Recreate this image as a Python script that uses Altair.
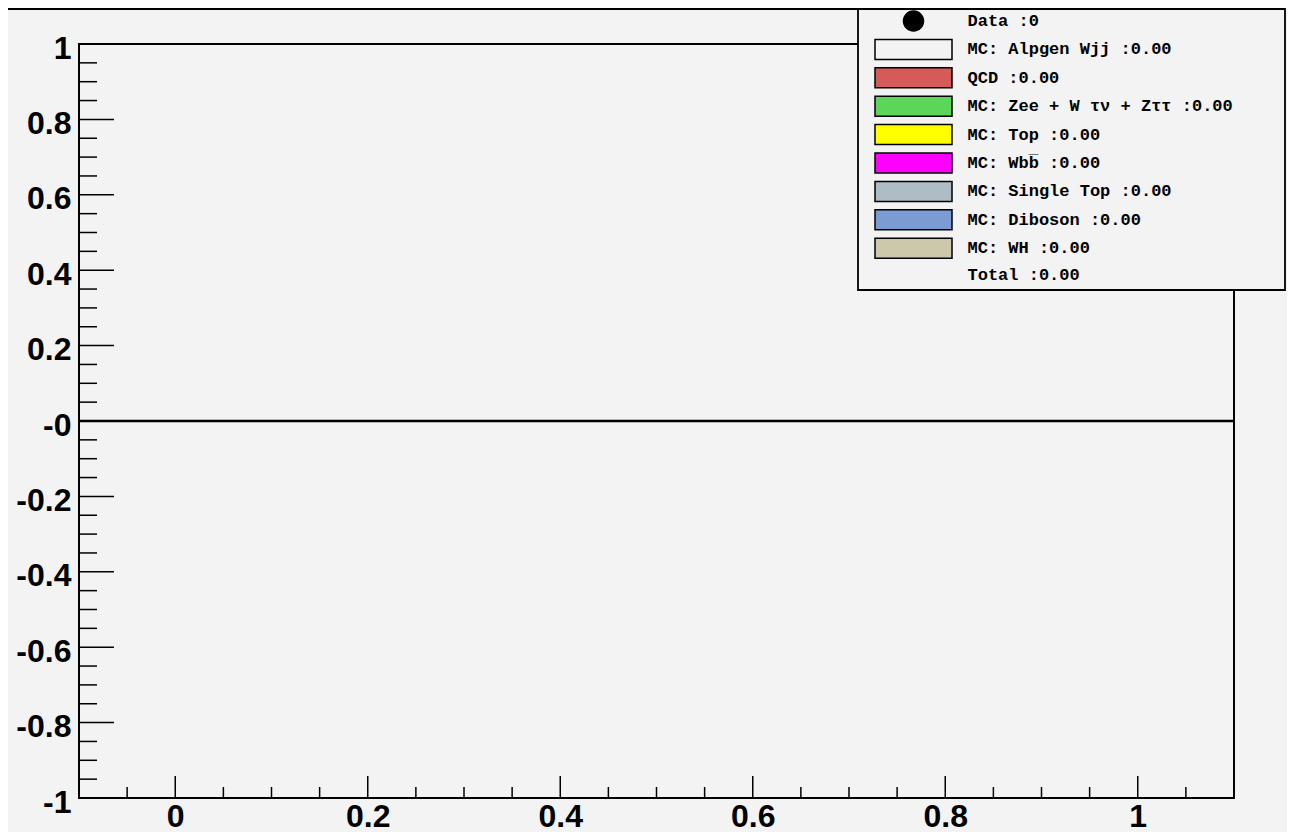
import altair as alt
import pandas as pd

# ---- data -------------------------------------------------------------
hist_x = [-0.1, 1.1]          # empty histogram range
hist_y = [0.0, 0.0]           # all bins empty

series_names = [
    "Data",
    "MC: Alpgen Wjj",
    "QCD",
    "MC: Zee + W τν + Zττ",
    "MC: Top",
    "MC: Wbb\u0305 ",
    "MC: Single Top",
    "MC: Diboson",
    "MC: WH",
    "Total",
]
series_yields = ["0", "0.00", "0.00", "0.00", "0.00", "0.00", "0.00", "0.00", "0.00", "0.00"]
series_colors = [
    "black", "#f3f3f3", "#d65b58", "#5bd65b", "#ffff00",
    "#ff00ff", "#adbcc6", "#7b9bd2", "#cdc8ab", "transparent",
]
series_outline = ["black"] * 9 + ["transparent"]

x_major = [0.0, 0.2, 0.4, 0.6, 0.8, 1.0]
x_minor = [-0.05, 0.05, 0.1, 0.15, 0.25, 0.3, 0.35, 0.45, 0.5, 0.55,
           0.65, 0.7, 0.75, 0.85, 0.9, 0.95, 1.05]
y_major = [-1.0, -0.8, -0.6, -0.4, -0.2, 0.0, 0.2, 0.4, 0.6, 0.8, 1.0]
y_minor = [-0.95, -0.9, -0.85, -0.75, -0.7, -0.65, -0.55, -0.5, -0.45,
           -0.35, -0.3, -0.25, -0.15, -0.1, -0.05, 0.05, 0.1, 0.15,
           0.25, 0.3, 0.35, 0.45, 0.5, 0.55, 0.65, 0.7, 0.75, 0.85, 0.9, 0.95]

# ---- layout / style ---------------------------------------------------
W, H = 1155, 754
BG = "#f3f3f3"
RECT_PATH = "M-3.85,-1H3.85V1H-3.85Z"

labels = [f"{n} :{v}" for n, v in zip(series_names, series_yields)]
shapes = ["circle"] + [RECT_PATH] * 8 + ["M0,0"]

xs = alt.Scale(domain=[-0.1, 1.1], nice=False, zero=False)
ys = alt.Scale(domain=[-1, 1], nice=False, zero=False)

axis_common = dict(
    title=None, ticks=False, tickSize=0, domain=False, grid=False,
    labelFont="Liberation Sans", labelFontWeight="bold", labelFontSize=32,
    labelColor="black", labelFlush=False, labelOverlap=False,
)
x_axis = alt.Axis(values=x_major, labelPadding=3,
                  labelExpr="'' + datum.value", **axis_common)
y_axis = alt.Axis(values=y_major, labelPadding=8, labelOffset=4,
                  labelExpr="datum.value == 0 ? '-0' : '' + datum.value",
                  **axis_common)

hist_df = pd.DataFrame({"x": hist_x, "y": hist_y})
base = alt.Chart(hist_df).mark_line(color="black", strokeWidth=2.5).encode(
    x=alt.X("x:Q", scale=xs, axis=x_axis),
    y=alt.Y("y:Q", scale=ys, axis=y_axis),
)

def ytick_layer(vals, length):
    return alt.Chart(pd.DataFrame({"v": vals})).mark_rule(
        color="black", strokeWidth=1.5
    ).encode(
        y=alt.Y("v:Q", scale=ys, axis=y_axis),
        x=alt.value(0), x2=alt.value(length),
    )

def xtick_layer(vals, length):
    return alt.Chart(pd.DataFrame({"v": vals})).mark_rule(
        color="black", strokeWidth=1.5
    ).encode(
        x=alt.X("v:Q", scale=xs, axis=x_axis),
        y=alt.value(H), y2=alt.value(H - length),
    )

title_line = alt.Chart(pd.DataFrame({"a": [0]})).mark_rule(
    color="black", strokeWidth=2
).encode(x=alt.value(-71), x2=alt.value(881), y=alt.value(-35), y2=alt.value(-35))

legend_box = alt.Chart(pd.DataFrame({"a": [0]})).mark_rect(
    fill=BG, stroke="black", strokeWidth=1.8
).encode(x=alt.value(779), x2=alt.value(1206), y=alt.value(-35), y2=alt.value(246))

legend_df = pd.DataFrame({"label": labels})
leg = alt.Legend(
    title=None, orient="none", legendX=790, legendY=-34, padding=0,
    direction="vertical", columns=1,
    symbolSize=400, symbolOffset=33.5, labelOffset=43,
    symbolStrokeWidth=1.5, symbolOpacity=1,
    labelFont="Liberation Mono", labelFontWeight="bold", labelFontSize=17,
    labelColor="black", labelLimit=0, rowPadding=2.4,
)
legend_layer = alt.Chart(legend_df).mark_point(
    filled=True, opacity=1, strokeWidth=1.5
).encode(
    fill=alt.Fill("label:N", scale=alt.Scale(domain=labels, range=series_colors),
                  legend=leg, sort=labels),
    stroke=alt.Stroke("label:N", scale=alt.Scale(domain=labels, range=series_outline),
                      legend=leg, sort=labels),
    shape=alt.Shape("label:N", scale=alt.Scale(domain=labels, range=shapes),
                    legend=leg, sort=labels),
).transform_filter("false")

chart = alt.layer(
    title_line,
    base,
    ytick_layer(y_major, 35),
    ytick_layer(y_minor, 18),
    xtick_layer(x_major, 22),
    xtick_layer(x_minor, 11),
    legend_box,
    legend_layer,
).properties(
    width=W, height=H,
    autosize=alt.AutoSizeParams(type="none"),
    padding={"left": 71, "top": 36, "right": 53, "bottom": 34},
    background=BG,
).configure_view(
    stroke="black", strokeWidth=2, fill=BG,
)

chart.save("out.html", embed_options={"renderer": "svg", "actions": False})
